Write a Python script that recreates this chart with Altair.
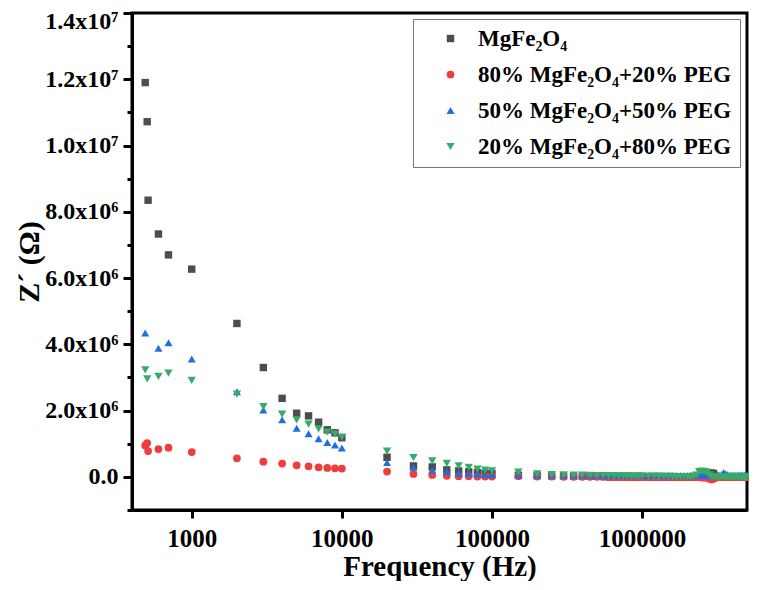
import altair as alt
import pandas as pd

# frequencies (Hz)
freq = [490, 505, 512, 600, 700, 1000, 2000, 3000, 4000, 5000, 6000, 7000, 8000, 9000,
        10000, 20000, 30000, 40000, 50000, 60000, 70000, 80000, 90000, 100000,
        150000, 200000, 250000, 300000, 350000, 400000, 450000, 500000, 550000, 600000,
        650000, 700000, 750000, 800000, 850000, 900000, 950000, 1000000,
        1100000, 1200000, 1300000, 1400000, 1500000, 1600000, 1700000, 1800000, 1900000, 2000000,
        2100000, 2200000, 2300000, 2400000, 2500000, 2600000, 2700000, 2800000, 2900000, 3000000,
        3100000, 3200000, 3300000, 3400000, 3500000, 3600000, 3700000, 3800000, 3900000, 4000000,
        4100000, 4200000, 4300000, 4400000, 4500000, 4600000, 4700000, 4800000, 4900000, 5000000]

# Z' values in units of 1e6 ohm, None = no point
mgfe = [11.9, 10.72, 8.35, 7.33, 6.70, 6.27, 4.63, 3.30, 2.37, 1.92, 1.84, 1.65, 1.42, 1.33,
        1.18, 0.59, 0.33, 0.30, 0.21, 0.18, 0.15, 0.13, 0.11, 0.10,
        0.05, 0.04, 0.03, 0.03, 0.02, 0.02, 0.02, 0.02, 0.01, 0.01,
        0.01, 0.01, 0.01, 0.01, 0.01, 0.01, 0.01, 0.01,
        0.0, 0.0, 0.0, 0.0, 0.0, 0.0, 0.0, 0.0, 0.0, 0.0,
        0.0, 0.0, 0.0, 0.0, 0.02, 0.03, 0.05, 0.08, 0.12, 0.10,
        0.02, 0.0, 0.0, 0.0, 0.0, 0.0, 0.0, 0.0, 0.0, 0.0,
        0.0, 0.0, 0.0, 0.0, 0.0, 0.0, 0.0, 0.0, 0.0, 0.0]
peg20 = [0.95, 1.02, 0.78, 0.84, 0.88, 0.75, 0.56, 0.46, 0.40, 0.35, 0.32, 0.29, 0.27, 0.26,
         0.25, 0.16, 0.09, 0.06, 0.03, 0.02, 0.02, 0.01, 0.01, 0.01,
         0.02, 0.01, 0.01, 0.0, 0.0, 0.0, 0.0, 0.0, 0.0, -0.01,
         -0.01, -0.01, -0.01, -0.01, -0.01, -0.01, -0.01, -0.01,
         -0.01, -0.01, -0.01, -0.01, -0.01, -0.01, -0.01, -0.01, -0.01, -0.01,
         -0.01, -0.01, -0.01, -0.01, -0.02, -0.02, -0.03, -0.05, -0.08, -0.06,
         -0.02, -0.01, -0.01, -0.01, -0.01, -0.01, -0.01, -0.01, -0.01, -0.01,
         -0.01, -0.01, -0.01, -0.01, -0.01, -0.01, -0.01, -0.01, -0.01, -0.01]
peg50 = [4.34, None, None, 3.88, 4.05, 3.56, 2.57, 2.02, 1.72, 1.47, 1.30, 1.15, 1.04, 0.96,
         0.87, 0.43, 0.29, 0.21, 0.16, 0.11, 0.10, 0.08, 0.07, 0.06,
         0.06, 0.05, 0.05, 0.05, 0.05, 0.05, 0.05, 0.05, 0.05, 0.05,
         0.05, 0.05, 0.05, 0.05, 0.05, 0.05, 0.05, 0.05,
         0.04, 0.04, 0.04, 0.04, 0.04, 0.04, 0.04, 0.04, 0.04, 0.04,
         0.04, 0.04, 0.04, 0.04, 0.04, 0.04, 0.04, 0.04, 0.04, 0.04,
         0.04, 0.04, 0.04, 0.08, 0.13, 0.09, 0.07, 0.05, 0.05, 0.05,
         0.05, 0.05, 0.05, 0.05, 0.05, 0.05, 0.05, 0.05, 0.05, 0.05]
peg80 = [3.23, 2.96, None, 3.03, 3.13, 2.91, 2.50, 2.12, 1.89, 1.72, 1.59, 1.45, 1.35, 1.29,
         1.20, 0.78, 0.58, 0.48, 0.41, 0.33, 0.29, 0.23, 0.20, 0.18,
         0.14, 0.09, 0.07, 0.06, 0.05, 0.05, 0.045, 0.04, 0.04, 0.035,
         0.035, 0.03, 0.03, 0.03, 0.025, 0.025, 0.025, 0.02,
         0.02, 0.02, 0.02, 0.015, 0.015, 0.015, 0.01, 0.01, 0.01, 0.01,
         0.01, 0.02, 0.05, 0.16, 0.17, 0.16, 0.14, 0.06, 0.0, 0.0,
         0.0, 0.01, 0.0, 0.0, 0.01, 0.0, 0.0, -0.01, 0.0, 0.0,
         -0.01, 0.0, 0.0, -0.01, 0.0, -0.01, 0.0, -0.01, -0.01, 0.0]

series = ['MgFe₂O₄', '80% MgFe₂O₄+20% PEG', '50% MgFe₂O₄+50% PEG', '20% MgFe₂O₄+80% PEG']
colors = ['#4d4d4d', '#ef3d3d', '#1f6fdf', '#38ab6a']
shapes = ['square', 'circle', 'triangle-up', 'triangle-down']
sizes = [55, 70, 75, 75]

y_major = [0, 2e6, 4e6, 6e6, 8e6, 1e7, 1.2e7, 1.4e7]
y_minor = [-1e6, 1e6, 3e6, 5e6, 7e6, 9e6, 1.1e7, 1.3e7]
x_ticks = [1000, 10000, 100000, 1000000]

rows = []
for name, vals in zip(series, [mgfe, peg20, peg50, peg80]):
    for f, v in zip(freq, vals):
        if v is not None:
            rows.append({'freq': f, 'z': v * 1e6, 'sample': name})
df = pd.DataFrame(rows)

font = 'Liberation Serif'
label_expr = ("datum.value == 0 ? '0.0' : datum.value >= 9999999 ? "
              "format(datum.value / 1e7, '.1f') + 'x10⁷' : format(datum.value / 1e6, '.1f') + 'x10⁶'")

x_enc = alt.X('freq:Q', title='Frequency (Hz)',
              scale=alt.Scale(type='log', domain=[400, 5e6], nice=False),
              axis=alt.Axis(values=x_ticks, format='d', labelFontSize=25, titleFontSize=29,
                            tickSize=8, labelPadding=8, titlePadding=1, grid=False))
y_scale = alt.Scale(domain=[-1e6, 1.4e7], nice=False, zero=False)

base = alt.Chart(df)

points = base.mark_point(filled=True, opacity=1, strokeWidth=0).encode(
    x=x_enc,
    y=alt.Y('z:Q', title='Z´ (Ω)', scale=y_scale,
            axis=alt.Axis(orient='left', values=y_major, labelExpr=label_expr, tickSize=9,
                          labelFontSize=24, labelPadding=5, labelFlush=2, labelFlushOffset=4,
                          titleFontSize=30, titlePadding=0, grid=False)),
    color=alt.Color('sample:N', scale=alt.Scale(domain=series, range=colors),
                    legend=alt.Legend(title=None, orient='none', legendX=281, legendY=6,
                                      labelFont=font, labelFontSize=23, labelFontWeight='bold',
                                      labelColor='black', labelLimit=400, symbolSize=50,
                                      padding=8, symbolOffset=18, labelOffset=16, rowPadding=12,
                                      strokeColor='#777777', fillColor='white')),
    shape=alt.Shape('sample:N', scale=alt.Scale(domain=series, range=shapes)),
    size=alt.Size('sample:N', scale=alt.Scale(domain=series, range=sizes), legend=None),
)

minor = base.mark_point(opacity=0).encode(
    x=x_enc,
    y=alt.Y('z:Q', title=None, scale=y_scale,
            axis=alt.Axis(orient='left', values=y_minor, labels=False, tickSize=5,
                          domain=False, grid=False)),
)

chart = alt.layer(points, minor).resolve_axis(y='independent').properties(
    width=615, height=497,
    autosize=alt.AutoSizeParams(type='none'),
    padding={'left': 124, 'top': 5, 'right': 2, 'bottom': 71},
).configure_view(
    stroke='black', strokeWidth=3
).configure_axis(
    domainColor='black', domainWidth=3, tickColor='black', tickWidth=3,
    labelFont=font, titleFont=font, labelFontWeight='bold', titleFontWeight='bold',
    labelColor='black', titleColor='black'
)

chart.save('out.html', embed_options={'renderer': 'svg', 'actions': False})
